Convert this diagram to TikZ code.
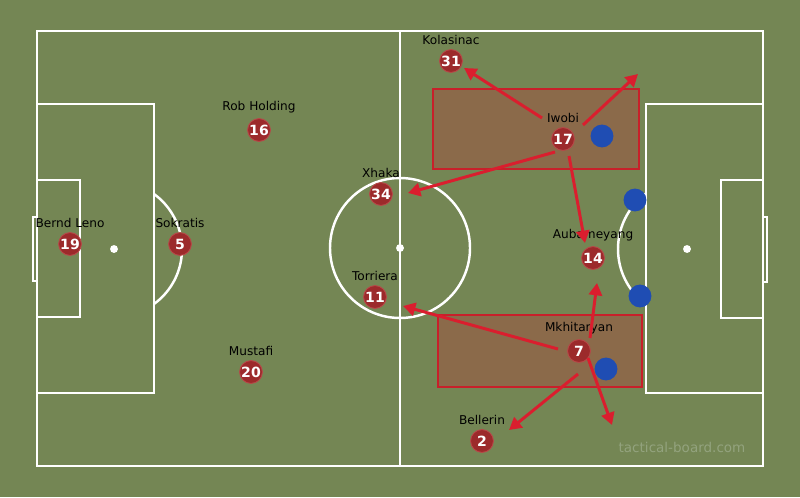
\documentclass[tikz,border=0pt]{standalone}
\usepackage{fontspec}
\setmainfont{DejaVu Sans}
\usetikzlibrary{arrows.meta}
\definecolor{grass}{HTML}{748654}
\definecolor{boxbrown}{HTML}{8B6A4A}
\definecolor{boxred}{HTML}{C8202A}
\definecolor{arrred}{HTML}{DA1E2E}
\definecolor{plred}{HTML}{9C2A2B}
\definecolor{plring}{HTML}{B84848}
\definecolor{oppblue}{HTML}{1F4DB3}
\definecolor{wm}{HTML}{93A37E}
\tikzset{
  pitchline/.style={draw=white, line width=1.4pt},
  player/.style={circle, fill=plred, draw=plring, line width=0.5pt, minimum size=13pt, inner sep=0pt,
    text=white, font=\fontsize{8}{8}\selectfont\bfseries},
  lbl/.style={font=\fontsize{6.9}{8}\selectfont, text=black, inner sep=0pt, label distance=2.6pt},
  opp/.style={circle, fill=oppblue, minimum size=13pt, inner sep=0pt},
  zone/.style={fill=boxbrown, draw=boxred, line width=1pt},
  move/.style={draw=arrred, line width=1.7pt, -{Triangle[length=7pt,width=7.5pt]}},
  spot/.style={circle, fill=white, minimum size=4.5pt, inner sep=0pt}
}
\begin{document}
\begin{tikzpicture}[x=0.02cm,y=-0.02cm]
\fill[grass] (0,0) rectangle (800,497);
\useasboundingbox (0,0) rectangle (800,497);
% pitch
\draw[pitchline] (37,31) rectangle (763,466);
\draw[pitchline] (400,31) -- (400,466);
\draw[pitchline] (400,248) circle (70);
\node[spot] (cspot) at (400,248) {};
% left
\draw[pitchline] (37,104) rectangle (154,393);
\draw[pitchline] (37,180) rectangle (80,317);
\draw[pitchline] (33,217) rectangle (37,281);
\node[spot] (lspot) at (114,249) {};
\begin{scope}
\clip (154,0) rectangle (300,497);
\draw[pitchline] (114,249) circle (68);
\end{scope}
% right
\draw[pitchline] (646,104) rectangle (763,393);
\draw[pitchline] (721,180) rectangle (763,318);
\draw[pitchline] (763,217) rectangle (767,282);
\node[spot] (rspot) at (687,249) {};
\begin{scope}
\clip (500,0) rectangle (646,497);
\draw[pitchline] (687,249) circle (69);
\end{scope}
% zones
\draw[zone] (433,89) rectangle (639,169);
\draw[zone] (438,315) rectangle (642,387);
% opponents
\node[opp] (b1) at (602,136) {};
\node[opp] (b2) at (635,200) {};
\node[opp] (b3) at (640,296) {};
\node[opp] (b4) at (606,369) {};
% players
\node[player, label={[lbl]above:Bernd Leno}] (p19) at (70,244) {19};
\node[player, label={[lbl]above:Sokratis}] (p5) at (180,244) {5};
\node[player, label={[lbl]above:Rob Holding}] (p16) at (259,130) {16};
\node[player, label={[lbl]above:Mustafi}] (p20) at (251,372) {20};
\node[player, label={[lbl]above:Xhaka}] (p34) at (381,194) {34};
\node[player, label={[lbl]above:Torriera}] (p11) at (375,297) {11};
\node[player, label={[lbl]above:Kolasinac}] (p31) at (451,61) {31};
\node[player, label={[lbl]above:Iwobi}] (p17) at (563,139) {17};
\node[player, label={[lbl]above:Aubameyang}] (p14) at (593,258) {14};
\node[player, label={[lbl]above:Mkhitaryan}] (p7) at (579,351) {7};
\node[player, label={[lbl]above:Bellerin}] (p2) at (482,441) {2};
% arrow points
\coordinate (i1) at (542,118);
\coordinate (i1e) at (464,68);
\coordinate (i2) at (583,125);
\coordinate (i2e) at (638,74);
\coordinate (i3) at (555,152);
\coordinate (i3e) at (408,193);
\coordinate (i4) at (569,156);
\coordinate (i4e) at (585,243);
\coordinate (m1) at (590,338);
\coordinate (m1e) at (597,283);
\coordinate (m2) at (558,349);
\coordinate (m2e) at (403,306);
\coordinate (m3) at (578,374);
\coordinate (m3e) at (509,430);
\coordinate (m4) at (588,358);
\coordinate (m4e) at (612,425);
\draw[move] (i1) -- (i1e);
\draw[move] (i2) -- (i2e);
\draw[move] (i3) -- (i3e);
\draw[move] (i4) -- (i4e);
\draw[move] (m1) -- (m1e);
\draw[move] (m2) -- (m2e);
\draw[move] (m3) -- (m3e);
\draw[move] (m4) -- (m4e);
% watermark
\node[text=wm, font=\fontsize{7.7}{8}\selectfont, inner sep=0pt] (wmark) at (682,447) {tactical-board.com};
\end{tikzpicture}
\end{document}
